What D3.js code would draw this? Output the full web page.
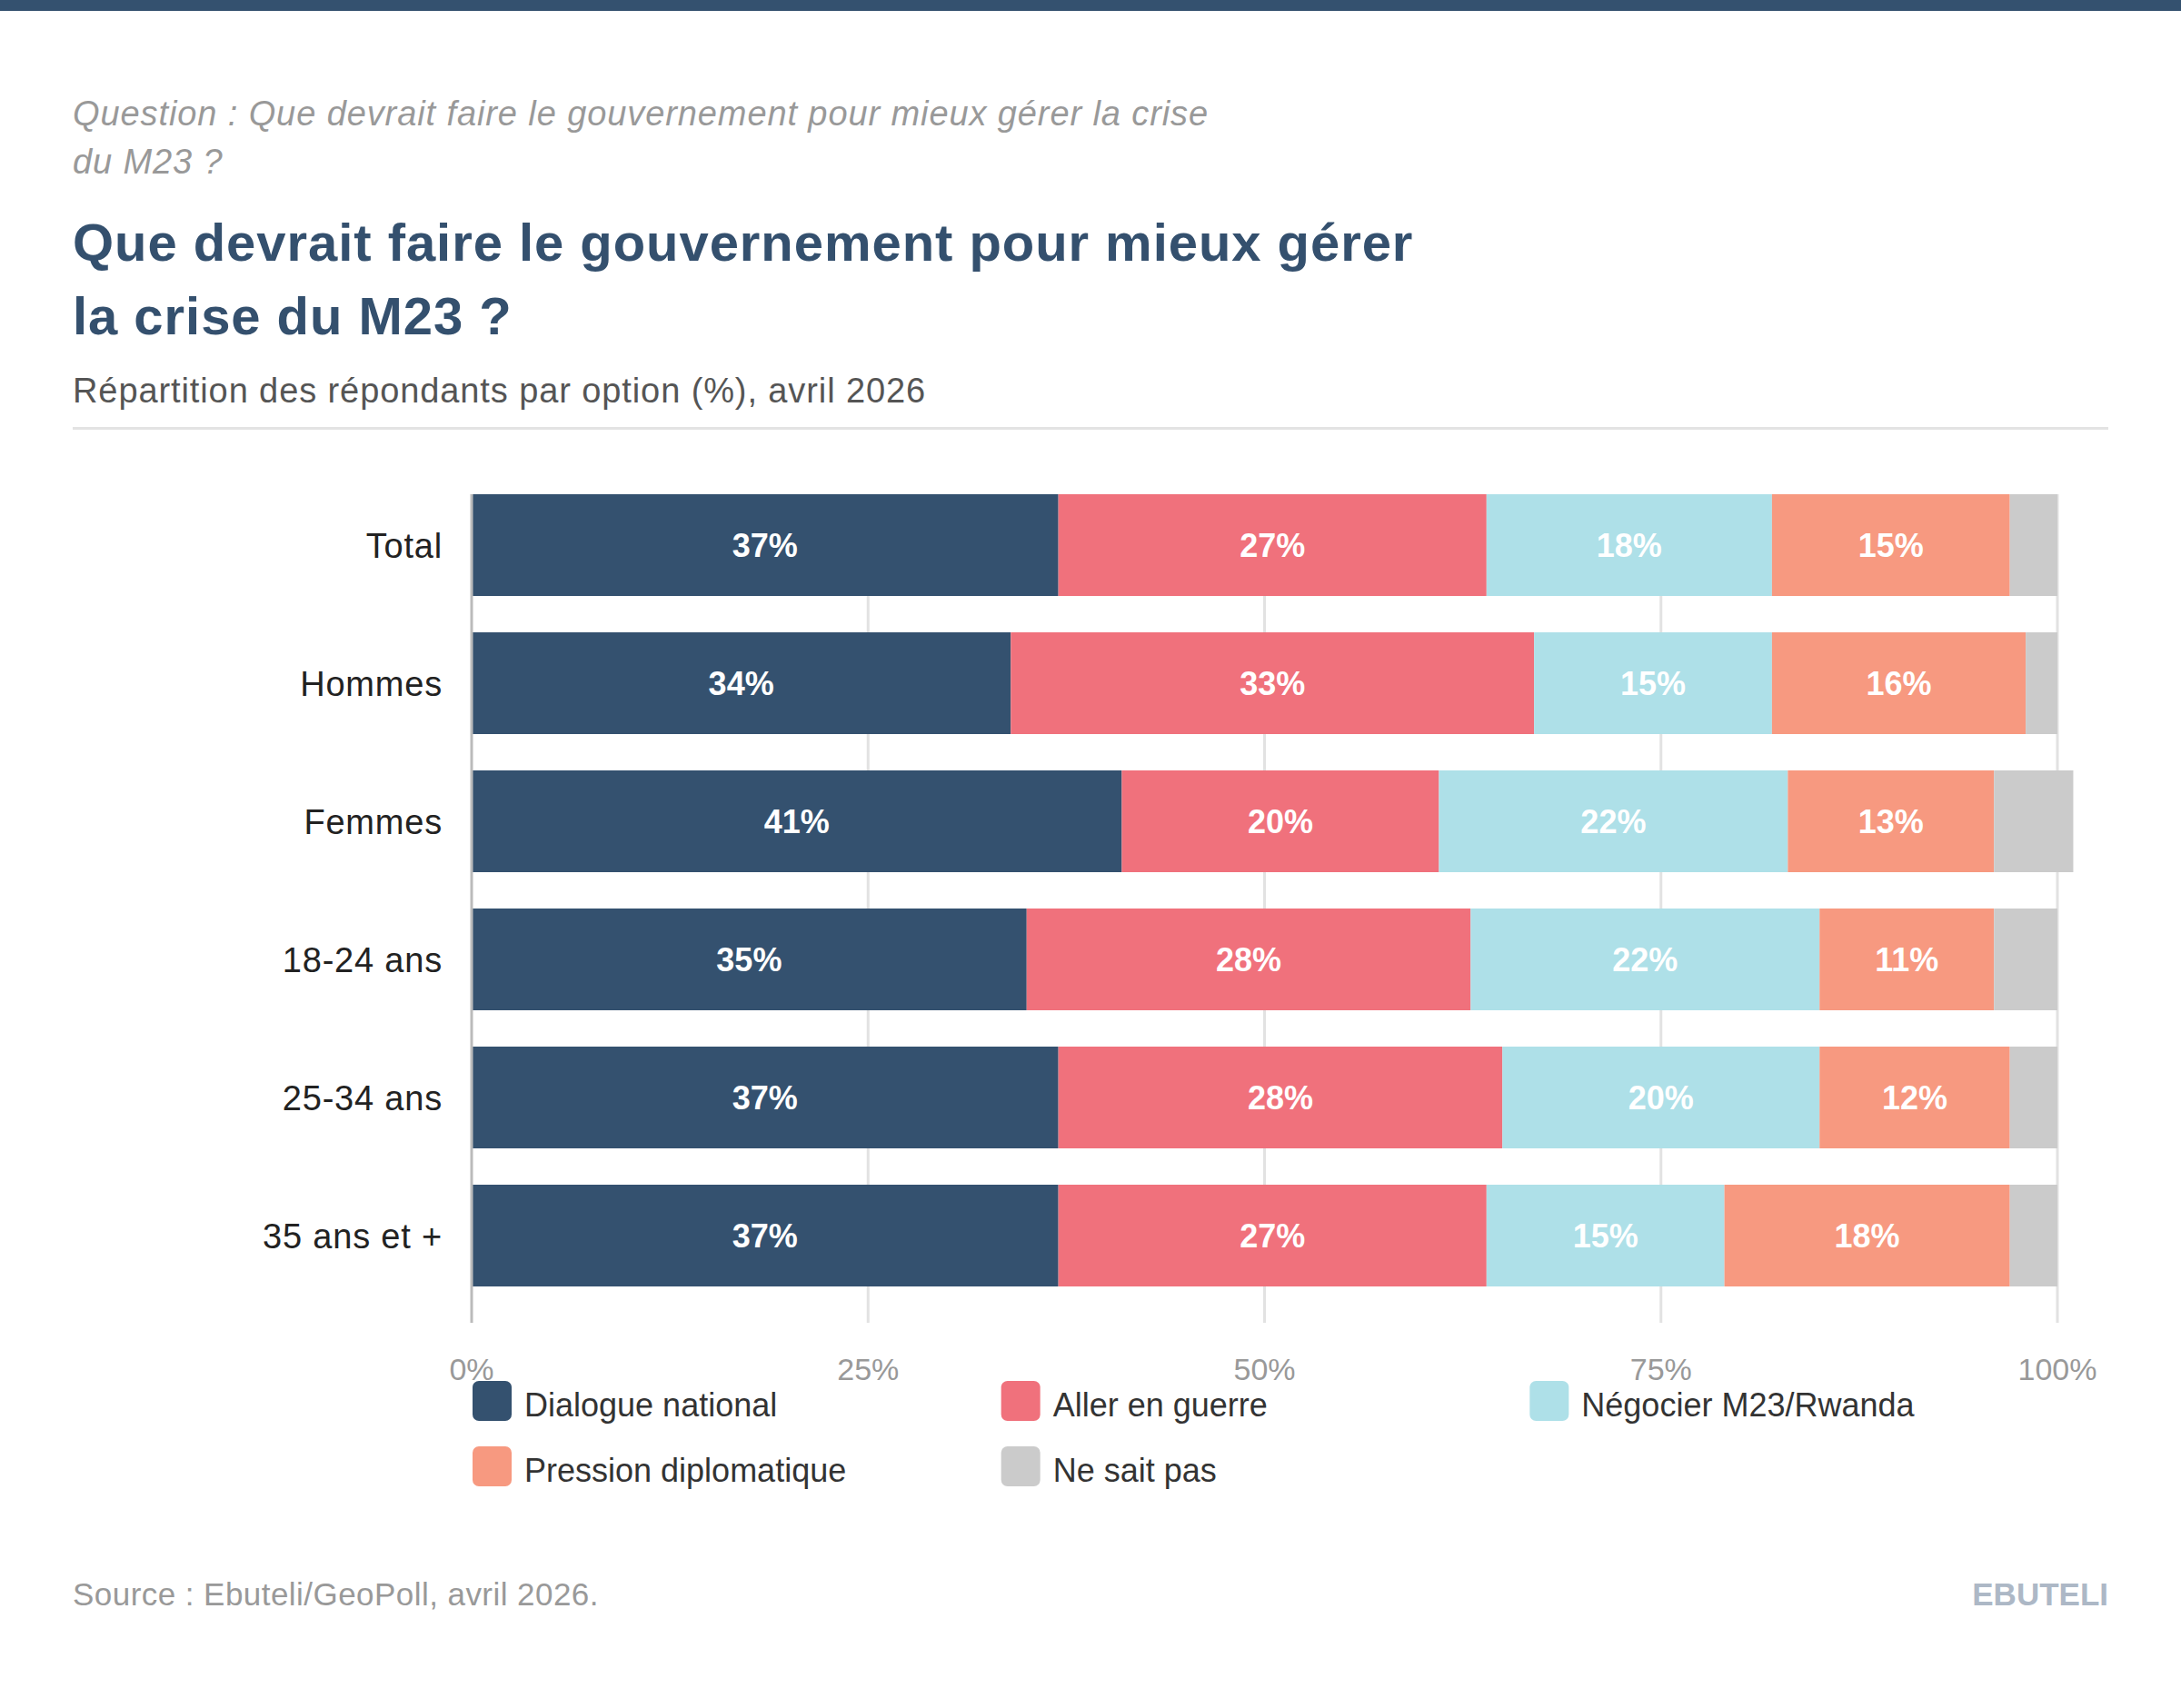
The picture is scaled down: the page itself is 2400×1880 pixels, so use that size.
<!DOCTYPE html>
<html>
<head>
<meta charset="utf-8">
<script src="https://cdn.jsdelivr.net/npm/d3@7"></script>
<style>
  body { margin: 0; background: #fff; }
  svg { display: block; font-family: "Liberation Sans", Arial, Helvetica, sans-serif; }
</style>
</head>
<body>
<div id="chart"></div>
<script>
// categories (rows) and answer options
const categories = ["Total", "Hommes", "Femmes", "18-24 ans", "25-34 ans", "35 ans et +"];
const options = ["Dialogue national", "Aller en guerre", "Négocier M23/Rwanda", "Pression diplomatique", "Ne sait pas"];
const colors = ["#34516f", "#f0717c", "#aee0e8", "#f79980", "#cbcbcb"];

// values per option, one entry per category (%)
const dialogue = [37, 34, 41, 35, 37, 37];
const guerre = [27, 33, 20, 28, 28, 27];
const negocier = [18, 15, 22, 22, 20, 15];
const pression = [15, 16, 13, 11, 12, 18];
const nsp = [3, 2, 5, 4, 3, 3];

const xTicks = [0, 25, 50, 75, 100];

const W = 2400, H = 1880;
const navy = "#34516f";

const svg = d3.select("#chart").append("svg")
  .attr("width", W)
  .attr("height", H);

// top band
svg.append("rect").attr("x", 0).attr("y", 0).attr("width", W).attr("height", 12).attr("fill", navy);

// header texts
const question = ["Question : Que devrait faire le gouvernement pour mieux gérer la crise", "du M23 ?"];
svg.selectAll(".question").data(question).join("text")
  .attr("x", 80).attr("y", (d, i) => 138 + i * 53)
  .attr("font-size", 38).attr("font-style", "italic").attr("fill", "#999")
  .attr("letter-spacing", 0.9)
  .text(d => d);

const title = ["Que devrait faire le gouvernement pour mieux gérer", "la crise du M23 ?"];
svg.selectAll(".title").data(title).join("text")
  .attr("x", 80).attr("y", (d, i) => 287 + i * 81)
  .attr("font-size", 58).attr("font-weight", "bold").attr("fill", "#34506e")
  .attr("letter-spacing", 0.95)
  .text(d => d);

svg.append("text")
  .attr("x", 80).attr("y", 443)
  .attr("font-size", 38).attr("fill", "#555")
  .attr("letter-spacing", 0.9)
  .text("Répartition des répondants par option (%), avril 2026");

svg.append("rect").attr("x", 80).attr("y", 470).attr("width", 2240).attr("height", 3).attr("fill", "#e3e3e3");

// scales
const x = d3.scaleLinear().domain([0, 100]).range([519, 2264]);
const pad = 40 / 152;
const y = d3.scaleBand().domain(categories).range([524, 1436])
  .paddingInner(pad).paddingOuter(pad / 2);

const gridTop = y(categories[0]);
const gridBottom = y(categories[categories.length - 1]) + y.bandwidth() + 40;

// grid lines
svg.append("g").selectAll("line").data(xTicks.filter(t => t > 0)).join("line")
  .attr("x1", d => x(d)).attr("x2", d => x(d))
  .attr("y1", gridTop).attr("y2", gridBottom)
  .attr("stroke", "#e2e2e2").attr("stroke-width", 3);

// stacked data
const series = [dialogue, guerre, negocier, pression, nsp];
const rows = categories.map((c, i) => {
  const r = { cat: c };
  options.forEach((o, k) => r[o] = series[k][i]);
  return r;
});
const stacked = d3.stack().keys(options)(rows);

const layers = svg.append("g").selectAll("g").data(stacked).join("g")
  .attr("fill", (d, i) => colors[i]);

layers.selectAll("rect").data(d => d).join("rect")
  .attr("x", d => x(d[0]))
  .attr("y", d => y(d.data.cat))
  .attr("width", d => x(d[1]) - x(d[0]))
  .attr("height", y.bandwidth());

layers.selectAll("text").data(d => d.filter(p => p[1] - p[0] >= 6)).join("text")
  .attr("x", d => (x(d[0]) + x(d[1])) / 2)
  .attr("y", d => y(d.data.cat) + y.bandwidth() / 2)
  .attr("dy", "0.36em")
  .attr("text-anchor", "middle")
  .attr("font-size", 36).attr("font-weight", "bold").attr("fill", "#fff")
  .text(d => (d[1] - d[0]) + "%");

// zero axis line
svg.append("line")
  .attr("x1", x(0)).attr("x2", x(0))
  .attr("y1", gridTop).attr("y2", gridBottom)
  .attr("stroke", "#bbb").attr("stroke-width", 3);

// category labels
svg.append("g").selectAll("text").data(categories).join("text")
  .attr("x", 487)
  .attr("y", d => y(d) + y.bandwidth() / 2)
  .attr("dy", "0.36em")
  .attr("text-anchor", "end")
  .attr("font-size", 38).attr("fill", "#222")
  .attr("letter-spacing", 0.8)
  .text(d => d);

// x tick labels
svg.append("g").selectAll("text").data(xTicks).join("text")
  .attr("x", d => x(d)).attr("y", 1519)
  .attr("text-anchor", "middle")
  .attr("font-size", 34).attr("fill", "#999")
  .text(d => d + "%");

// legend
const colW = (x(100) - x(0)) / 3;
const legend = svg.append("g").selectAll("g").data(options).join("g")
  .attr("transform", (d, i) => `translate(${520 + (i % 3) * colW},${1520 + Math.floor(i / 3) * 72})`);
legend.append("rect")
  .attr("width", 43).attr("height", 44).attr("rx", 7)
  .attr("fill", (d, i) => colors[i]);
legend.append("text")
  .attr("x", 57).attr("y", 39)
  .attr("font-size", 36).attr("fill", "#333")
  .text(d => d);

// footer
svg.append("text")
  .attr("x", 80).attr("y", 1767)
  .attr("font-size", 35).attr("fill", "#999")
  .attr("letter-spacing", 0.45)
  .text("Source : Ebuteli/GeoPoll, avril 2026.");
svg.append("text")
  .attr("x", 2320).attr("y", 1767)
  .attr("text-anchor", "end")
  .attr("font-size", 35).attr("font-weight", "bold").attr("fill", "#adb8c6")
  .text("EBUTELI");
</script>
</body>
</html>
